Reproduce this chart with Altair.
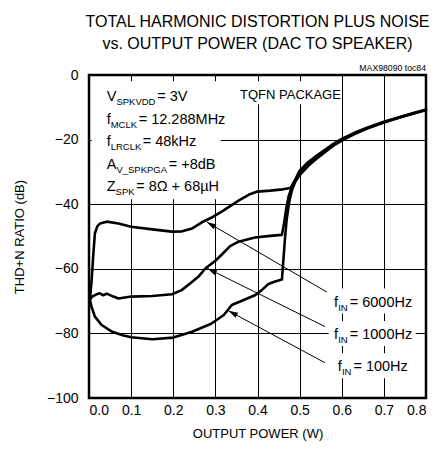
import math
import altair as alt
import pandas as pd

FONT = "Liberation Sans, Arial, Helvetica, sans-serif"

# ---------------- data ----------------
p6000 = [0.002, 0.006, 0.010, 0.014, 0.020, 0.026, 0.042, 0.070, 0.100, 0.150,
         0.197, 0.221, 0.245, 0.268, 0.290, 0.316, 0.355, 0.380, 0.400, 0.430,
         0.460, 0.478, 0.490, 0.50, 0.52, 0.54, 0.56, 0.58, 0.60, 0.63,
         0.66, 0.70, 0.74, 0.77, 0.80]
d6000 = [-69.7, -64.0, -56.0, -49.0, -46.8, -46.0, -45.4, -46.0, -47.0, -47.8,
         -48.5, -48.4, -47.5, -45.6, -44.2, -42.2, -38.9, -37.0, -36.1, -35.8,
         -35.4, -35.0, -32.3, -29.6, -27.0, -25.0, -23.2, -21.3, -19.8, -17.9,
         -16.3, -14.5, -12.9, -11.8, -10.7]

p1000 = [0.002, 0.007, 0.018, 0.026, 0.034, 0.042, 0.058, 0.070, 0.100, 0.150,
         0.197, 0.220, 0.245, 0.260, 0.276, 0.300, 0.316, 0.335, 0.355, 0.394,
         0.430, 0.458, 0.463, 0.468, 0.474, 0.482, 0.490, 0.50, 0.52, 0.54,
         0.56, 0.58, 0.60, 0.63, 0.66, 0.70, 0.74, 0.77, 0.80]
d1000 = [-69.7, -68.6, -67.9, -67.6, -68.2, -67.7, -68.6, -69.2, -68.6, -68.4,
         -67.9, -66.6, -64.0, -62.4, -59.9, -57.5, -55.5, -53.0, -51.6, -50.3,
         -49.8, -49.5, -46.0, -41.5, -37.5, -34.5, -32.5, -30.3, -27.6, -25.4,
         -23.5, -21.6, -20.0, -18.1, -16.5, -14.6, -13.0, -11.9, -10.8]

p100 = [0.002, 0.006, 0.014, 0.030, 0.055, 0.080, 0.100, 0.150, 0.200, 0.245,
        0.290, 0.320, 0.339, 0.363, 0.395, 0.410, 0.426, 0.440, 0.458, 0.461,
        0.465, 0.469, 0.475, 0.482, 0.490, 0.50, 0.52, 0.54, 0.56, 0.58,
        0.60, 0.63, 0.66, 0.70, 0.74, 0.77, 0.80]
d100 = [-69.7, -71.7, -74.8, -77.4, -79.5, -80.6, -81.2, -81.8, -81.3, -79.5,
        -77.0, -74.3, -71.2, -69.9, -68.1, -66.6, -64.7, -64.0, -63.3, -58.0,
        -51.0, -45.0, -39.5, -35.5, -33.0, -31.0, -28.2, -25.9, -23.9, -21.9,
        -20.3, -18.3, -16.6, -14.7, -13.1, -11.9, -10.8]

x_ticks = [0.0, 0.1, 0.2, 0.3, 0.4, 0.5, 0.6, 0.7, 0.8]
y_ticks = [0, -10, -20, -30, -40, -50, -60, -70, -80, -90, -100]

title_lines = ["TOTAL HARMONIC DISTORTION PLUS NOISE",
               "vs. OUTPUT POWER (DAC TO SPEAKER)"]
x_title = "OUTPUT POWER (W)"
y_title = "THD+N RATIO (dB)"
doc_id = "MAX98090 toc84"
package = "TQFN PACKAGE"

cond_main = ["V", "f", "f", "A", "Z"]
cond_sub = ["SPKVDD", "MCLK", "LRCLK", "V_SPKPGA", "SPK"]
cond_rest = ["= 3V", "= 12.288MHz", "= 48kHz", "= +8dB", "= 8\u03a9 + 68\u00b5H"]

fin_freqs = ["6000Hz", "1000Hz", "100Hz"]

# ---------------- layout (annotation placement, in data units) ----------------
W, H = 337, 323
X0, X1 = 0.0, 0.8
Y0, Y1 = -100.0, 0.0
PX_PER_W = W / (X1 - X0)
PX_PER_DB = H / (Y1 - Y0)

MAIN_FS, SUB_FS = 14.5, 9.5

cond_x_main = 0.042
cond_x_sub = [0.0650, 0.0515, 0.0515, 0.0650, 0.0631]
cond_x_rest = [0.1619, 0.1180, 0.1275, 0.1892, 0.1120]
cond_y = [-8.14, -15.1, -22.07, -29.04, -36.0]
sub_drop = 1.24

fin_grid = [-70, -80, -90]
fin_x_main = [0.5816, 0.5816, 0.5904]
fin_x_sub = [0.5916, 0.5916, 0.6004]
fin_x_rest = [0.6189, 0.6189, 0.6277]

arrow_tip = [(0.2795, -45.5), (0.2812, -59.9), (0.331, -73.0)]
arrow_tail = [(0.5647, -67.2), (0.5604, -77.9), (0.5604, -89.1)]

title_y = [14.9, 8.1]

# ---------------- tables ----------------
rows = []
for name, ps, ds in [("6000Hz", p6000, d6000), ("1000Hz", p1000, d1000), ("100Hz", p100, d100)]:
    for i, (p, d) in enumerate(zip(ps, ds)):
        rows.append({"series": name, "i": i, "p": p, "d": d})
curves = pd.DataFrame(rows)

texts = []
for k in range(5):
    texts.append({"x": cond_x_main, "y": cond_y[k], "t": cond_main[k], "fs": MAIN_FS})
    texts.append({"x": cond_x_sub[k], "y": cond_y[k] - sub_drop, "t": cond_sub[k], "fs": SUB_FS})
    texts.append({"x": cond_x_rest[k], "y": cond_y[k], "t": cond_rest[k], "fs": MAIN_FS})
for k in range(3):
    gy = fin_grid[k]
    texts.append({"x": fin_x_main[k], "y": gy - 1.7, "t": "f", "fs": MAIN_FS})
    texts.append({"x": fin_x_sub[k], "y": gy - 2.94, "t": "IN", "fs": SUB_FS})
    texts.append({"x": fin_x_rest[k], "y": gy - 1.7, "t": "= " + fin_freqs[k], "fs": MAIN_FS})
texts.append({"x": 0.3585, "y": -7.52, "t": package, "fs": 13})
texts_df = pd.DataFrame(texts)

tops = pd.DataFrame([{"x": 0.8, "y": 1.2, "t": doc_id, "fs": 8.7}])
title_df = pd.DataFrame({"x": [0.4, 0.4], "y": title_y, "t": title_lines})

boxes_df = pd.DataFrame([
    {"x": 0.006, "x2": 0.3126, "y": -1.95, "y2": -38.5},
    {"x": 0.3435, "x2": 0.5975, "y": -1.95, "y2": -9.07},
    {"x": 0.5689, "x2": 0.7756, "y": -66.13, "y2": -73.87},
    {"x": 0.5689, "x2": 0.7756, "y": -76.13, "y2": -83.87},
    {"x": 0.5785, "x2": 0.7756, "y": -86.13, "y2": -93.87},
])

arrows = []
for (tx, ty), (sx, sy) in zip(arrow_tip, arrow_tail):
    dx = (tx - sx) * PX_PER_W
    dy = -(ty - sy) * PX_PER_DB
    ang = math.degrees(math.atan2(dx, -dy)) % 360
    arrows.append({"x": tx, "y": ty, "x2": sx, "y2": sy, "ang": ang})
arrows_df = pd.DataFrame(arrows)

xs = alt.Scale(domain=[X0, X1], nice=False, zero=False)
ys = alt.Scale(domain=[Y0, Y1], nice=False, zero=False)

x_axis = alt.Axis(values=x_ticks, format=".1f", title=x_title, grid=True, ticks=False,
                  domain=False, labelPadding=5, titlePadding=10)
y_axis = alt.Axis(values=y_ticks, title=y_title, grid=True, ticks=False,
                  domain=False, labelPadding=11, titlePadding=20)

lines = alt.Chart(curves).mark_line(color="black", strokeWidth=2.6, strokeJoin="round", strokeCap="round").encode(
    x=alt.X("p:Q", scale=xs, axis=x_axis),
    y=alt.Y("d:Q", scale=ys, axis=y_axis),
    detail="series:N",
    order="i:Q",
)

boxes = alt.Chart(boxes_df).mark_rect(color="white").encode(
    x=alt.X("x:Q", scale=xs), x2="x2:Q",
    y=alt.Y("y:Q", scale=ys), y2="y2:Q",
)

arrow_lines = alt.Chart(arrows_df).mark_rule(color="black", strokeWidth=1).encode(
    x=alt.X("x:Q", scale=xs), x2="x2:Q",
    y=alt.Y("y:Q", scale=ys), y2="y2:Q",
)

heads = alt.Chart(arrows_df).mark_point(
    shape="M0,0L0.7,2.4L-0.7,2.4Z", filled=True, color="black", opacity=1, size=64, strokeWidth=0
).encode(
    x=alt.X("x:Q", scale=xs),
    y=alt.Y("y:Q", scale=ys),
    angle=alt.Angle("ang:Q", scale=None),
)

labels = alt.Chart(texts_df).mark_text(align="left", baseline="alphabetic", font=FONT, color="black").encode(
    x=alt.X("x:Q", scale=xs),
    y=alt.Y("y:Q", scale=ys),
    text="t:N",
    size=alt.Size("fs:Q", scale=None),
)

docid = alt.Chart(tops).mark_text(align="right", baseline="alphabetic", font=FONT, color="black").encode(
    x=alt.X("x:Q", scale=xs),
    y=alt.Y("y:Q", scale=ys),
    text="t:N",
    size=alt.Size("fs:Q", scale=None),
)

title = alt.Chart(title_df).mark_text(
    align="center", baseline="alphabetic", font=FONT, fontSize=16, color="black").encode(
    x=alt.X("x:Q", scale=xs),
    y=alt.Y("y:Q", scale=ys),
    text="t:N",
)

chart = alt.layer(lines, boxes, arrow_lines, heads, labels, docid, title).properties(
    width=W, height=H,
).configure_view(
    stroke="black", strokeWidth=2.5
).configure_axis(
    gridColor="black", gridWidth=1, gridOpacity=1,
    labelFont=FONT, labelFontSize=14, labelColor="black",
    titleFont=FONT, titleFontSize=13, titleFontWeight="normal", titleColor="black",
)

chart.save("out.html", embed_options={"renderer": "svg", "actions": False})
